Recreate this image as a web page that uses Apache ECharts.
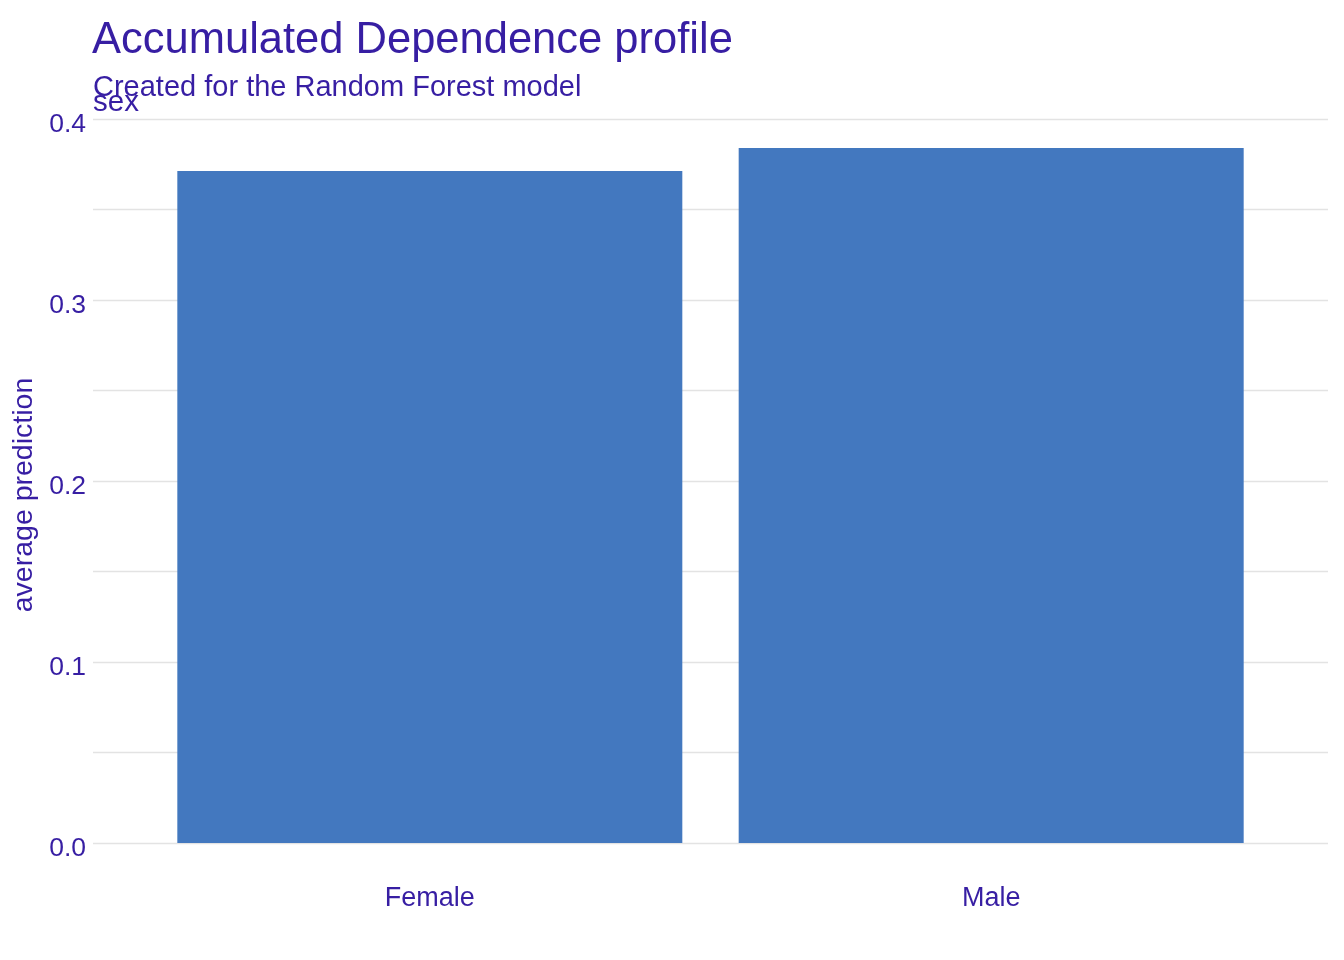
<!DOCTYPE html>
<html>
<head>
<meta charset="utf-8">
<script src="https://cdn.jsdelivr.net/npm/echarts@6/dist/echarts.min.js"></script>
<style>html,body{margin:0;padding:0;background:#fff;}#c{width:1344px;height:960px;}</style>
</head>
<body>
<div id="c"></div>
<script>
const categories = ['Female', 'Male'];
const values = [0.3713, 0.384];
const yTicks = [0, 0.1, 0.2, 0.3, 0.4];

const TXT = '#371ea3';
const FONT = '"Liberation Sans", Arial, sans-serif';
const chart = echarts.init(document.getElementById('c'), null, {renderer: 'canvas'});
chart.setOption({
  backgroundColor: '#ffffff',
  animation: false,
  textStyle: {fontFamily: FONT, color: TXT},
  title: [
    {text: 'Accumulated Dependence profile', left: 92, top: 19, padding: 0,
     textStyle: {fontFamily: FONT, fontSize: 43.5, fontWeight: 'normal', color: TXT}},
    {text: 'Created for the Random Forest model', left: 93, top: 73, padding: 0,
     textStyle: {fontFamily: FONT, fontSize: 29, fontWeight: 'normal', color: TXT}},
    {text: 'sex', left: 93, top: 88, padding: 0,
     textStyle: {fontFamily: FONT, fontSize: 29.5, fontWeight: 'normal', color: TXT}}
  ],
  grid: {left: 93, right: 16, top: 119, bottom: 117, containLabel: false},
  xAxis: {
    type: 'value', min: 0.4, max: 2.6,
    axisLine: {show: false}, axisTick: {show: false}, splitLine: {show: false},
    axisLabel: {
      customValues: [1, 2],
      formatter: v => categories[Math.round(v) - 1] || '',
      fontSize: 27, color: TXT, fontFamily: FONT, margin: 42
    }
  },
  yAxis: {
    type: 'value', min: yTicks[0], max: yTicks[yTicks.length - 1], interval: 0.1,
    name: 'average prediction', nameLocation: 'middle', nameGap: 49, nameRotate: 90,
    nameTextStyle: {fontSize: 28.5, color: TXT, fontFamily: FONT, padding: [0, 28, 0, 0]},
    axisLine: {show: false}, axisTick: {show: false},
    axisLabel: {formatter: v => v.toFixed(1), fontSize: 26.5, color: TXT, fontFamily: FONT, margin: 7,
      verticalAlign: 'top', lineHeight: 11},
    splitLine: {show: true, lineStyle: {color: '#e3e3e3', width: 1.4}},
    minorTick: {show: false, splitNumber: 2},
    minorSplitLine: {show: true, lineStyle: {color: '#e3e3e3', width: 1.4}}
  },
  series: [{
    type: 'bar',
    data: categories.map((c, i) => [i + 1, values[i]]),
    barWidth: 505,
    itemStyle: {color: '#4378bf'}
  }]
});
</script>
</body>
</html>
